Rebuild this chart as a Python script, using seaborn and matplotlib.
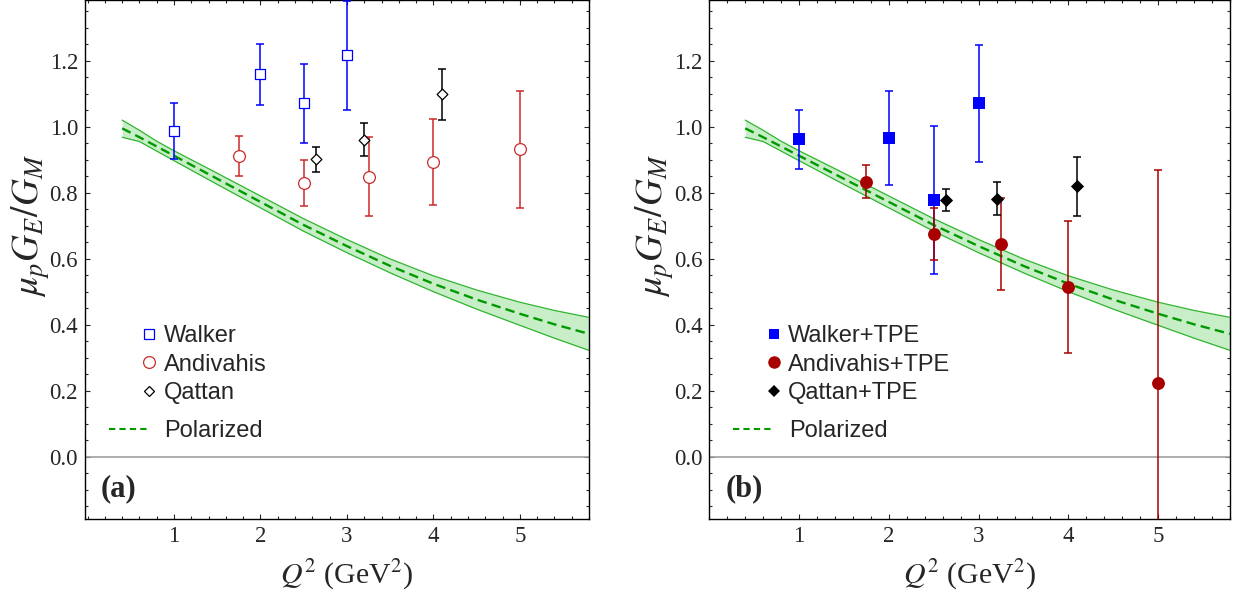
import numpy as np
import pandas as pd
import matplotlib
matplotlib.use("Agg")
import matplotlib.pyplot as plt
import seaborn as sns
from matplotlib.lines import Line2D
from matplotlib.ticker import MultipleLocator, FixedLocator, FormatStrFormatter


# polarized fit (central line and band)
q2_fit = [0.4, 0.6, 0.8, 1.0, 1.5, 2.0, 2.5, 3.0, 3.5, 4.0, 4.5, 5.0, 5.4, 5.8]
fit_mid = [0.995, 0.968, 0.940, 0.912, 0.842, 0.772, 0.702, 0.638, 0.578, 0.524, 0.476, 0.433, 0.401, 0.372]
fit_lo = [0.968, 0.955, 0.926, 0.897, 0.825, 0.754, 0.683, 0.618, 0.557, 0.500, 0.447, 0.398, 0.359, 0.322]
fit_hi = [1.020, 0.989, 0.956, 0.927, 0.859, 0.790, 0.721, 0.658, 0.599, 0.548, 0.505, 0.468, 0.443, 0.422]

# Rosenbluth data
walker_q2 = [1.0, 2.0, 2.5, 3.0]
walker_r = [0.986, 1.159, 1.071, 1.216]
walker_err = [0.085, 0.092, 0.120, 0.164]

andiv_q2 = [1.75, 2.5, 3.25, 4.0, 5.0]
andiv_r = [0.912, 0.829, 0.849, 0.893, 0.932]
andiv_err = [0.060, 0.070, 0.120, 0.130, 0.177]

qattan_q2 = [2.64, 3.2, 4.1]
qattan_r = [0.901, 0.961, 1.098]
qattan_err = [0.038, 0.050, 0.077]

# with TPE correction
walker_tpe_r = [0.962, 0.966, 0.778, 1.071]
walker_tpe_err = [0.089, 0.143, 0.225, 0.178]

andiv_tpe_r = [0.833, 0.675, 0.645, 0.515, 0.223]
andiv_tpe_err = [0.050, 0.080, 0.140, 0.200, 0.647]

qattan_tpe_r = [0.778, 0.781, 0.819]
qattan_tpe_err = [0.033, 0.050, 0.089]

x_ticks = [1, 2, 3, 4, 5]

fit = pd.DataFrame({"q2": q2_fit, "mid": fit_mid, "lo": fit_lo, "hi": fit_hi})

sns.set_style("ticks")
plt.rcParams["font.family"] = ["Liberation Serif", "DejaVu Serif"]
plt.rcParams["mathtext.fontset"] = "stix"

BLUE = "#0000ff"
RED = "#cc2a2a"
DARKRED = "#a80000"
GREEN = "#009a00"
EDGE = "#2fb52f"
FILL = "#c8eec8"

fig = plt.figure(figsize=(12.37, 5.98), dpi=100)
W, H = 1237, 598
ax1 = fig.add_axes([85 / W, 78.7 / H, 504 / W, 519.3 / H])
ax2 = fig.add_axes([709.3 / W, 78.7 / H, 520.7 / W, 519.3 / H])


def draw_fit(ax):
    ax.fill_between(fit["q2"], fit["lo"], fit["hi"], color=FILL, lw=0, zorder=1)
    sns.lineplot(data=fit, x="q2", y="lo", ax=ax, color=EDGE, lw=0.9, zorder=1.5)
    sns.lineplot(data=fit, x="q2", y="hi", ax=ax, color=EDGE, lw=0.9, zorder=1.5)
    sns.lineplot(data=fit, x="q2", y="mid", ax=ax, color=GREEN, lw=1.7,
                 linestyle=(0, (4, 2.2)), zorder=2)
    ax.axhline(0, color="#a0a0a0", lw=1.2, zorder=1)


def points(ax, x, y, err, color, marker, size, filled):
    ax.errorbar(x, y, yerr=err, fmt="none", ecolor=color,
                elinewidth=1.1, capsize=2.6, capthick=1.1, zorder=3)
    face = color if filled else "white"
    sns.scatterplot(x=x, y=y, ax=ax, marker=marker, s=size, color=face,
                    edgecolor=color, linewidth=0.9 if not filled else 0,
                    zorder=4, legend=False)


def style_axes(ax, tag, xmin, ylab_x, xlab_x):
    ax.set_xlim(xmin, 5.8)
    ax.set_ylim(-0.19, 1.384)
    ax.xaxis.set_major_locator(FixedLocator(x_ticks))
    ax.xaxis.set_minor_locator(MultipleLocator(0.2))
    ax.yaxis.set_major_locator(MultipleLocator(0.2))
    ax.yaxis.set_minor_locator(MultipleLocator(0.05))
    ax.yaxis.set_major_formatter(FormatStrFormatter("%.1f"))
    ax.tick_params(which="both", direction="in", top=True, right=True,
                   width=0.8, labelsize=16.5, pad=5)
    ax.tick_params(which="major", length=3.8)
    ax.tick_params(which="minor", length=2.3)
    for s in ax.spines.values():
        s.set_linewidth(1.0)
        s.set_color("black")
    ax.set_xlabel(r"$Q^2$ (GeV$^2$)", fontsize=21.5)
    ax.xaxis.set_label_coords(xlab_x, -0.107)
    ax.xaxis.label.set_va("center")
    ax.set_ylabel(r"$\mu_p G_E/G_M$", fontsize=27)
    ax.yaxis.set_label_coords(ylab_x, 0.565)
    ax.yaxis.label.set_va("center")
    ax.text(0.067, 0.058, tag, transform=ax.transAxes, ha="center", va="center",
            fontsize=22, fontweight="bold")


def legends(ax, names, specs, xfrac, xfrac_pol):
    handles = []
    for (color, marker, ms, filled) in specs:
        handles.append(Line2D([], [], ls="none", marker=marker, markersize=ms,
                              markerfacecolor=color if filled else "white",
                              markeredgecolor=color, markeredgewidth=0.9 if not filled else 0))
    leg = ax.legend(handles, names, loc="center left", bbox_to_anchor=(xfrac, 0.298),
                    frameon=False, borderpad=0, borderaxespad=0, handlelength=0.5,
                    handletextpad=0.36, labelspacing=0.27,
                    prop={"family": "Liberation Sans", "size": 17})
    ax.add_artist(leg)
    pol = Line2D([], [], color=GREEN, lw=1.5, linestyle=(0, (3, 2)))
    ax.legend([pol], ["Polarized"], loc="center left", bbox_to_anchor=(xfrac_pol, 0.170),
              frameon=False, borderpad=0, borderaxespad=0, handlelength=1.65,
              handletextpad=0.7, prop={"family": "Liberation Sans", "size": 17})


# panel (a)
draw_fit(ax1)
points(ax1, walker_q2, walker_r, walker_err, BLUE, "s", 52, False)
points(ax1, andiv_q2, andiv_r, andiv_err, RED, "o", 72, False)
points(ax1, qattan_q2, qattan_r, qattan_err, "black", "D", 30, False)
style_axes(ax1, "(a)", -0.03, -0.108, 0.52)
legends(ax1, ["Walker", "Andivahis", "Qattan"],
        [(BLUE, "s", 7.2, False), (RED, "o", 8.5, False), ("black", "D", 5.4, False)],
        58.5 / 504, 24 / 504)

# panel (b)
draw_fit(ax2)
points(ax2, walker_q2, walker_tpe_r, walker_tpe_err, BLUE, "s", 67, True)
points(ax2, andiv_q2, andiv_tpe_r, andiv_tpe_err, DARKRED, "o", 86, True)
points(ax2, qattan_q2, qattan_tpe_r, qattan_tpe_err, "black", "D", 45, True)
style_axes(ax2, "(b)", 0.0, -0.104, 0.5)
legends(ax2, ["Walker+TPE", "Andivahis+TPE", "Qattan+TPE"],
        [(BLUE, "s", 7.2, True), (DARKRED, "o", 9.0, True), ("black", "D", 6.4, True)],
        58.5 / 520.7, 24 / 520.7)

fig.savefig("out.png", dpi=100)
